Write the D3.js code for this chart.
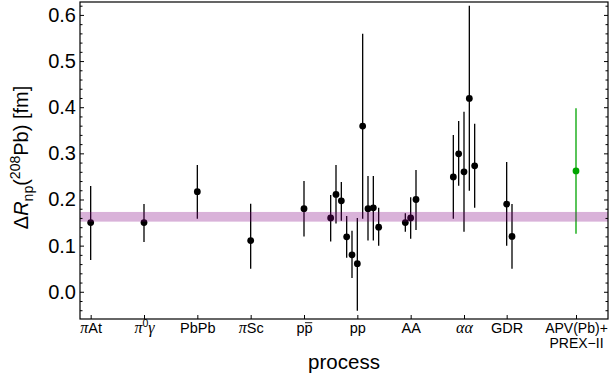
<!DOCTYPE html>
<html>
<head>
<meta charset="utf-8">
<script src="https://cdn.jsdelivr.net/npm/d3@7"></script>
<style>
  body { margin: 0; background: #fff; }
  svg { display: block; font-family: "Liberation Sans", Arial, sans-serif; }
  .axis path, .axis line { stroke: #000; }
</style>
</head>
<body>
<svg id="chart" width="616" height="381"></svg>
<script>
// category ticks along the x axis (numeric positions + labels)
var tickPos = [1, 2, 3, 4, 5, 6, 7, 8, 8.8, 10.1];
var tickNames = ["piAt", "pi0g", "PbPb", "piSc", "ppbar", "pp", "AA", "aa", "GDR", "APV"];

// measurements: position, central value, lower and upper end of the error bar
var pos = [1, 2, 3, 4, 5, 5.5, 5.6, 5.7, 5.8, 5.9, 6.0, 6.1, 6.2, 6.3, 6.4,
           6.9, 7.0, 7.1, 7.8, 7.9, 8.0, 8.1, 8.2, 8.8, 8.9, 10.1];
var val = [0.150, 0.150, 0.217, 0.111, 0.180, 0.160, 0.211, 0.197, 0.119, 0.080, 0.061, 0.359, 0.180, 0.182, 0.140,
           0.150, 0.160, 0.200, 0.249, 0.299, 0.260, 0.419, 0.273, 0.190, 0.120, 0.262];
var lo  = [0.069, 0.108, 0.158, 0.050, 0.120, 0.109, 0.148, 0.154, 0.074, 0.030, -0.041, 0.158, 0.111, 0.111, 0.100,
           0.130, 0.115, 0.134, 0.158, 0.230, 0.130, 0.219, 0.182, 0.100, 0.050, 0.126];
var hi  = [0.229, 0.190, 0.275, 0.191, 0.240, 0.210, 0.275, 0.238, 0.164, 0.132, 0.160, 0.559, 0.251, 0.251, 0.182,
           0.170, 0.205, 0.264, 0.340, 0.370, 0.390, 0.620, 0.364, 0.281, 0.190, 0.398];
var isNew = [false, false, false, false, false, false, false, false, false, false, false, false, false, false, false,
             false, false, false, false, false, false, false, false, false, false, true];

// weighted average band
var band = [0.152, 0.173];

var yMajor = [0.0, 0.1, 0.2, 0.3, 0.4, 0.5, 0.6];
var yMinor = [-0.04, -0.02, 0.02, 0.04, 0.06, 0.08, 0.12, 0.14, 0.16, 0.18, 0.22, 0.24, 0.26, 0.28,
              0.32, 0.34, 0.36, 0.38, 0.42, 0.44, 0.46, 0.48, 0.52, 0.54, 0.56, 0.58, 0.62];

var svg = d3.select("#chart"),
    margin = {top: 2, right: 8, bottom: 62, left: 80},
    width = +svg.attr("width") - margin.left - margin.right,
    height = +svg.attr("height") - margin.top - margin.bottom;

var x = d3.scaleLinear().domain([0.8, 10.7]).range([margin.left, margin.left + width]);
var y = d3.scaleLinear().domain([-0.059, 0.628]).range([margin.top + height, margin.top]);

var data = pos.map(function(p, i) {
  return {x: p, v: val[i], lo: lo[i], hi: hi[i], green: isNew[i]};
});

// error bars
svg.append("g").selectAll("line")
    .data(data)
    .enter()
    .append("line")
      .attr("x1", function(d) { return x(d.x); })
      .attr("x2", function(d) { return x(d.x); })
      .attr("y1", function(d) { return y(d.lo); })
      .attr("y2", function(d) { return y(d.hi); })
      .attr("stroke", function(d) { return d.green ? "#00a500" : "#000"; })
      .attr("stroke-width", 1.3);

// points
svg.append("g").selectAll("circle")
    .data(data)
    .enter()
    .append("circle")
      .attr("cx", function(d) { return x(d.x); })
      .attr("cy", function(d) { return y(d.v); })
      .attr("r", 3.4)
      .attr("fill", function(d) { return d.green ? "#00a500" : "#000"; });

// translucent band drawn on top of the points
svg.append("rect")
    .attr("x", x(0.8))
    .attr("width", x(10.7) - x(0.8))
    .attr("y", y(band[1]))
    .attr("height", y(band[0]) - y(band[1]))
    .attr("fill", "#800080")
    .attr("fill-opacity", 0.3);

// frame
svg.append("rect")
    .attr("x", margin.left)
    .attr("y", margin.top)
    .attr("width", width)
    .attr("height", height)
    .attr("fill", "none")
    .attr("stroke", "#000")
    .attr("stroke-width", 1.2);

// left axis: major ticks with labels, minor ticks without
var gy = svg.append("g")
    .attr("class", "axis")
    .attr("transform", "translate(" + margin.left + ",0)")
    .call(d3.axisLeft(y).tickValues(yMajor).tickSizeInner(-4).tickSizeOuter(0).tickPadding(4)
          .tickFormat(d3.format(".1f")));
gy.select(".domain").remove();
gy.selectAll("text").attr("font-size", "20px").attr("font-family", "Liberation Sans, Arial, sans-serif").attr("fill", "#000");

var gyMinor = svg.append("g")
    .attr("class", "axis")
    .attr("transform", "translate(" + margin.left + ",0)")
    .call(d3.axisLeft(y).tickValues(yMinor).tickSizeInner(-2.5).tickSizeOuter(0).tickFormat(""));
gyMinor.select(".domain").remove();

// right axis mirrors the ticks
var gr = svg.append("g")
    .attr("class", "axis")
    .attr("transform", "translate(" + (margin.left + width) + ",0)")
    .call(d3.axisRight(y).tickValues(yMajor).tickSizeInner(-4).tickSizeOuter(0).tickFormat(""));
gr.select(".domain").remove();
var grMinor = svg.append("g")
    .attr("class", "axis")
    .attr("transform", "translate(" + (margin.left + width) + ",0)")
    .call(d3.axisRight(y).tickValues(yMinor).tickSizeInner(-2.5).tickSizeOuter(0).tickFormat(""));
grMinor.select(".domain").remove();

// bottom axis
var gx = svg.append("g")
    .attr("class", "axis")
    .attr("transform", "translate(0," + (margin.top + height) + ")")
    .call(d3.axisBottom(x).tickValues(tickPos).tickSizeInner(-4).tickSizeOuter(0).tickFormat(""));
gx.select(".domain").remove();

// tick labels need mixed fonts, so build them by hand
var greek = "Liberation Serif, Times New Roman, serif";
gx.selectAll(".tick").each(function(d, i) {
  var g = d3.select(this);
  var t = g.select("text")
      .attr("dy", null)
      .attr("y", 14)
      .attr("font-size", "14.5px")
      .attr("font-family", "Liberation Sans, Arial, sans-serif")
      .attr("fill", "#000");
  var name = tickNames[i];
  if (name == "piAt" || name == "piSc") {
    t.append("tspan").attr("font-family", greek).attr("font-style", "italic").attr("font-size", "16px").text("\u03c0");
    t.append("tspan").text(name == "piAt" ? "At" : "Sc");
  } else if (name == "pi0g") {
    t.append("tspan").attr("font-family", greek).attr("font-style", "italic").attr("font-size", "16px").text("\u03c0");
    t.append("tspan").attr("font-size", "10.5px").attr("dy", -6).text("0");
    t.append("tspan").attr("font-family", greek).attr("font-style", "italic").attr("font-size", "16px").attr("dy", 6).text("\u03b3");
  } else if (name == "ppbar") {
    t.text("pp");
    // bar over the second p, measured from the rendered glyph
    var node = t.node();
    var s = node.getStartPositionOfChar(1), e = node.getEndPositionOfChar(1);
    g.append("line")
        .attr("x1", s.x + 0.5).attr("x2", e.x - 0.3)
        .attr("y1", 14 - 10.3).attr("y2", 14 - 10.3)
        .attr("stroke", "#000").attr("stroke-width", 0.9);
  } else if (name == "aa") {
    t.append("tspan").attr("font-family", greek).attr("font-style", "italic").attr("font-size", "16px").text("\u03b1\u03b1");
  } else if (name == "APV") {
    // two separate lines, kept clear of each other
    t.attr("y", 13.5).attr("font-size", "14px").text("APV(Pb)+");
    g.append("text")
        .attr("y", 13.5 + 15.5)
        .attr("text-anchor", "middle")
        .attr("font-size", "14px")
        .attr("fill", "#000")
        .text("PREX\u2212II");
  } else {
    t.text(name);
  }
});

// axis titles
svg.append("text")
    .attr("x", margin.left + width / 2)
    .attr("y", 369)
    .attr("text-anchor", "middle")
    .attr("font-size", "20.5px")
    .attr("fill", "#000")
    .text("process");

var ylab = svg.append("text")
    .attr("transform", "translate(28," + (margin.top + height / 2 - 3) + ") rotate(-90)")
    .attr("text-anchor", "middle")
    .attr("font-size", "20px")
    .attr("fill", "#000");
ylab.append("tspan").text("\u0394");
ylab.append("tspan").attr("font-style", "italic").text("R");
ylab.append("tspan").attr("font-size", "14px").attr("dy", 5).text("np");
ylab.append("tspan").attr("dy", -5).text("(");
ylab.append("tspan").attr("font-size", "14px").attr("dy", -8).text("208");
ylab.append("tspan").attr("dy", 8).text("Pb) [fm]");
</script>
</body>
</html>
